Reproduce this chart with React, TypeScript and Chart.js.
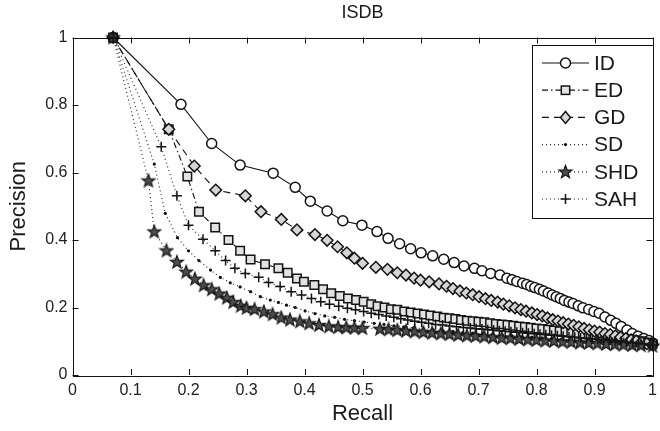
import React, { useEffect, useRef } from 'react';
import { Chart, registerables } from 'chart.js';

Chart.register(...registerables);

const FONT = '"Liberation Sans", Arial, Helvetica, sans-serif';

const TITLE = 'ISDB';
const X_TITLE = 'Recall';
const Y_TITLE = 'Precision';
const X_TICKS = [0, 0.1, 0.2, 0.3, 0.4, 0.5, 0.6, 0.7, 0.8, 0.9, 1];
const Y_TICKS = [0, 0.2, 0.4, 0.6, 0.8, 1];
const SERIES_NAMES = ['ID', 'ED', 'GD', 'SD', 'SHD', 'SAH'];

const ID_RECALL = [0.070, 0.187, 0.240, 0.289, 0.346, 0.384, 0.410, 0.439, 0.466, 0.499, 0.525, 0.544, 0.564, 0.583, 0.601, 0.621, 0.640, 0.658, 0.675, 0.693, 0.706, 0.721, 0.737, 0.749, 0.758, 0.766, 0.776, 0.783, 0.790, 0.797, 0.805, 0.812, 0.820, 0.827, 0.834, 0.841, 0.848, 0.856, 0.863, 0.872, 0.880, 0.890, 0.899, 0.908, 0.918, 0.928, 0.937, 0.946, 0.956, 0.965, 0.975, 0.985, 0.994, 1.000];
const ID_PRECISION = [1.000, 0.802, 0.686, 0.622, 0.598, 0.556, 0.515, 0.486, 0.457, 0.444, 0.425, 0.405, 0.389, 0.374, 0.362, 0.353, 0.343, 0.333, 0.323, 0.316, 0.309, 0.301, 0.296, 0.287, 0.282, 0.277, 0.272, 0.268, 0.263, 0.259, 0.254, 0.249, 0.243, 0.237, 0.232, 0.227, 0.221, 0.216, 0.212, 0.205, 0.199, 0.194, 0.188, 0.183, 0.172, 0.162, 0.153, 0.144, 0.133, 0.123, 0.115, 0.108, 0.102, 0.095];

const ED_RECALL = [0.070, 0.166, 0.198, 0.218, 0.246, 0.269, 0.289, 0.307, 0.332, 0.355, 0.371, 0.387, 0.399, 0.417, 0.432, 0.446, 0.461, 0.475, 0.489, 0.502, 0.515, 0.526, 0.538, 0.549, 0.560, 0.572, 0.583, 0.595, 0.606, 0.617, 0.629, 0.640, 0.650, 0.660, 0.670, 0.680, 0.690, 0.700, 0.710, 0.720, 0.730, 0.740, 0.750, 0.760, 0.770, 0.780, 0.790, 0.800, 0.810, 0.820, 0.830, 0.840, 0.850, 0.860, 0.870, 0.880, 0.890, 0.900, 0.910, 0.920, 0.930, 0.940, 0.950, 0.960, 0.970, 0.980, 0.990, 1.000];
const ED_PRECISION = [1.000, 0.728, 0.588, 0.484, 0.437, 0.400, 0.368, 0.342, 0.328, 0.316, 0.303, 0.286, 0.276, 0.267, 0.254, 0.242, 0.234, 0.227, 0.222, 0.217, 0.210, 0.204, 0.200, 0.195, 0.193, 0.188, 0.185, 0.182, 0.179, 0.176, 0.173, 0.170, 0.168, 0.166, 0.163, 0.161, 0.159, 0.158, 0.156, 0.153, 0.151, 0.150, 0.148, 0.146, 0.144, 0.142, 0.140, 0.138, 0.136, 0.134, 0.132, 0.130, 0.128, 0.126, 0.124, 0.122, 0.120, 0.119, 0.117, 0.115, 0.113, 0.111, 0.109, 0.106, 0.103, 0.100, 0.096, 0.092];

const GD_RECALL = [0.070, 0.166, 0.210, 0.247, 0.298, 0.325, 0.360, 0.387, 0.418, 0.439, 0.457, 0.473, 0.486, 0.500, 0.523, 0.543, 0.560, 0.575, 0.589, 0.600, 0.615, 0.632, 0.645, 0.656, 0.668, 0.679, 0.690, 0.701, 0.712, 0.722, 0.733, 0.743, 0.753, 0.763, 0.773, 0.782, 0.792, 0.801, 0.810, 0.819, 0.828, 0.837, 0.846, 0.855, 0.864, 0.873, 0.882, 0.891, 0.900, 0.909, 0.918, 0.927, 0.936, 0.945, 0.954, 0.963, 0.972, 0.981, 0.990, 1.000];
const GD_PRECISION = [1.000, 0.728, 0.619, 0.548, 0.531, 0.484, 0.461, 0.430, 0.416, 0.399, 0.380, 0.362, 0.346, 0.331, 0.319, 0.313, 0.303, 0.296, 0.287, 0.281, 0.276, 0.270, 0.263, 0.256, 0.249, 0.243, 0.238, 0.232, 0.226, 0.221, 0.216, 0.210, 0.205, 0.199, 0.194, 0.189, 0.184, 0.179, 0.175, 0.169, 0.164, 0.160, 0.155, 0.151, 0.147, 0.143, 0.138, 0.134, 0.130, 0.127, 0.123, 0.120, 0.116, 0.112, 0.108, 0.104, 0.101, 0.097, 0.093, 0.089];

const SD_RECALL = [0.070, 0.141, 0.160, 0.181, 0.200, 0.218, 0.238, 0.255, 0.272, 0.289, 0.307, 0.324, 0.341, 0.355, 0.369, 0.384, 0.401, 0.418, 0.435, 0.452, 0.469, 0.486, 0.503, 0.520, 0.537, 0.554, 0.571, 0.588, 0.605, 0.622, 0.639, 0.656, 0.673, 0.690, 0.707, 0.724, 0.741, 0.758, 0.775, 0.792, 0.809, 0.826, 0.843, 0.860, 0.877, 0.894, 0.911, 0.928, 0.945, 0.962, 0.979, 1.000];
const SD_PRECISION = [1.000, 0.625, 0.479, 0.407, 0.368, 0.339, 0.311, 0.289, 0.273, 0.261, 0.247, 0.232, 0.222, 0.215, 0.207, 0.200, 0.190, 0.182, 0.175, 0.171, 0.165, 0.161, 0.157, 0.153, 0.150, 0.146, 0.143, 0.140, 0.137, 0.134, 0.131, 0.129, 0.126, 0.124, 0.122, 0.120, 0.118, 0.116, 0.114, 0.112, 0.110, 0.108, 0.106, 0.104, 0.102, 0.100, 0.098, 0.096, 0.094, 0.092, 0.090, 0.088];

const SHD_RECALL = [0.070, 0.131, 0.141, 0.162, 0.180, 0.196, 0.211, 0.226, 0.240, 0.253, 0.266, 0.277, 0.290, 0.300, 0.314, 0.330, 0.345, 0.360, 0.375, 0.392, 0.408, 0.425, 0.442, 0.458, 0.472, 0.486, 0.500, 0.530, 0.545, 0.560, 0.575, 0.590, 0.605, 0.620, 0.635, 0.650, 0.665, 0.680, 0.695, 0.710, 0.725, 0.740, 0.755, 0.770, 0.785, 0.800, 0.815, 0.830, 0.845, 0.860, 0.875, 0.890, 0.905, 0.920, 0.935, 0.950, 0.965, 0.980, 1.000];
const SHD_PRECISION = [1.000, 0.576, 0.425, 0.369, 0.335, 0.306, 0.285, 0.266, 0.254, 0.241, 0.229, 0.216, 0.205, 0.199, 0.195, 0.188, 0.180, 0.170, 0.164, 0.159, 0.153, 0.148, 0.144, 0.142, 0.141, 0.140, 0.139, 0.137, 0.135, 0.133, 0.131, 0.129, 0.127, 0.125, 0.123, 0.121, 0.119, 0.117, 0.116, 0.114, 0.112, 0.110, 0.109, 0.107, 0.105, 0.104, 0.102, 0.101, 0.099, 0.098, 0.096, 0.095, 0.094, 0.092, 0.091, 0.090, 0.089, 0.088, 0.087];

const SAH_RECALL = [0.070, 0.153, 0.180, 0.200, 0.225, 0.246, 0.264, 0.280, 0.298, 0.321, 0.338, 0.358, 0.377, 0.395, 0.412, 0.428, 0.443, 0.459, 0.474, 0.488, 0.502, 0.515, 0.528, 0.541, 0.554, 0.566, 0.578, 0.590, 0.602, 0.614, 0.626, 0.638, 0.650, 0.662, 0.674, 0.686, 0.696, 0.706, 0.716, 0.726, 0.736, 0.746, 0.756, 0.766, 0.776, 0.786, 0.796, 0.806, 0.816, 0.826, 0.836, 0.846, 0.856, 0.866, 0.876, 0.886, 0.896, 0.906, 0.916, 0.926, 0.936, 0.946, 0.956, 0.966, 0.976, 0.986, 0.996, 1.000];
const SAH_PRECISION = [1.000, 0.676, 0.531, 0.444, 0.402, 0.368, 0.339, 0.316, 0.301, 0.290, 0.274, 0.262, 0.247, 0.237, 0.227, 0.217, 0.210, 0.204, 0.198, 0.193, 0.188, 0.183, 0.179, 0.175, 0.171, 0.167, 0.163, 0.159, 0.156, 0.153, 0.150, 0.148, 0.145, 0.143, 0.141, 0.139, 0.137, 0.136, 0.134, 0.133, 0.131, 0.130, 0.128, 0.127, 0.125, 0.124, 0.122, 0.121, 0.119, 0.118, 0.116, 0.115, 0.113, 0.112, 0.110, 0.109, 0.107, 0.106, 0.104, 0.103, 0.101, 0.100, 0.098, 0.096, 0.094, 0.092, 0.090, 0.089];

const SERIES_X = [ID_RECALL, ED_RECALL, GD_RECALL, SD_RECALL, SHD_RECALL, SAH_RECALL];
const SERIES_Y = [ID_PRECISION, ED_PRECISION, GD_PRECISION, SD_PRECISION, SHD_PRECISION, SAH_PRECISION];

type Marker = 'circle' | 'square' | 'diamond' | 'dot' | 'star' | 'plus';
const STYLES: { dash: number[]; marker: Marker; lineColor: string }[] = [
  { dash: [], marker: 'circle', lineColor: '#111' },
  { dash: [6, 3, 1.5, 3], marker: 'square', lineColor: '#111' },
  { dash: [7, 5], marker: 'diamond', lineColor: '#111' },
  { dash: [1, 3], marker: 'dot', lineColor: '#222' },
  { dash: [1, 3], marker: 'star', lineColor: '#222' },
  { dash: [1, 3], marker: 'plus', lineColor: '#222' },
];

const EDGE = '#141414';
const STAR_FILL = '#4d4d4d';

function drawStarPath(g: CanvasRenderingContext2D, cx: number, cy: number, R: number, r: number) {
  g.beginPath();
  for (let i = 0; i < 10; i++) {
    const rad = i % 2 === 0 ? R : r;
    const a = -Math.PI / 2 + (i * Math.PI) / 5;
    const px = cx + rad * Math.cos(a);
    const py = cy + rad * Math.sin(a);
    if (i === 0) g.moveTo(px, py);
    else g.lineTo(px, py);
  }
  g.closePath();
}

function makeStar(): HTMLCanvasElement {
  const c = document.createElement('canvas');
  c.width = 16;
  c.height = 16;
  const g = c.getContext('2d')!;
  drawStarPath(g, 8, 8.4, 6.8, 2.8);
  g.fillStyle = STAR_FILL;
  g.fill();
  g.strokeStyle = EDGE;
  g.lineWidth = 1.2;
  g.stroke();
  return c;
}

function drawMarker(ctx: CanvasRenderingContext2D, m: Marker, x: number, y: number) {
  ctx.save();
  ctx.setLineDash([]);
  ctx.lineWidth = 1.5;
  ctx.strokeStyle = EDGE;
  if (m === 'circle') {
    ctx.beginPath();
    ctx.arc(x, y, 5, 0, Math.PI * 2);
    ctx.fillStyle = '#fff';
    ctx.fill();
    ctx.stroke();
  } else if (m === 'square') {
    ctx.fillStyle = '#e2e2e2';
    ctx.fillRect(x - 4.2, y - 4.2, 8.4, 8.4);
    ctx.strokeRect(x - 4.2, y - 4.2, 8.4, 8.4);
  } else if (m === 'diamond') {
    ctx.beginPath();
    ctx.moveTo(x, y - 6);
    ctx.lineTo(x + 5, y);
    ctx.lineTo(x, y + 6);
    ctx.lineTo(x - 5, y);
    ctx.closePath();
    ctx.fillStyle = '#d6d6d6';
    ctx.fill();
    ctx.stroke();
  } else if (m === 'dot') {
    ctx.beginPath();
    ctx.arc(x, y, 1.6, 0, Math.PI * 2);
    ctx.fillStyle = '#111';
    ctx.fill();
  } else if (m === 'star') {
    drawStarPath(ctx, x, y + 0.4, 6.8, 2.8);
    ctx.fillStyle = STAR_FILL;
    ctx.fill();
    ctx.lineWidth = 1.2;
    ctx.stroke();
  } else if (m === 'plus') {
    ctx.beginPath();
    ctx.moveTo(x - 5, y);
    ctx.lineTo(x + 5, y);
    ctx.moveTo(x, y - 5);
    ctx.lineTo(x, y + 5);
    ctx.stroke();
  }
  ctx.restore();
}

const framePlugin = {
  id: 'matlabFrame',
  afterDatasetsDraw(chart: any) {
    const { ctx, chartArea, scales } = chart;
    const { left, right, top, bottom } = chartArea;
    ctx.save();
    ctx.strokeStyle = '#111';
    ctx.lineWidth = 1;
    ctx.setLineDash([]);
    ctx.strokeRect(Math.round(left) + 0.5, Math.round(top) + 0.5, Math.round(right - left), Math.round(bottom - top));
    const tl = 6;
    ctx.beginPath();
    X_TICKS.forEach((v) => {
      const px = Math.round(scales.x.getPixelForValue(v)) + 0.5;
      ctx.moveTo(px, bottom);
      ctx.lineTo(px, bottom - tl);
      ctx.moveTo(px, top);
      ctx.lineTo(px, top + tl);
    });
    Y_TICKS.forEach((v) => {
      const py = Math.round(scales.y.getPixelForValue(v)) + 0.5;
      ctx.moveTo(left, py);
      ctx.lineTo(left + tl, py);
      ctx.moveTo(right, py);
      ctx.lineTo(right - tl, py);
    });
    ctx.stroke();

    ctx.fillStyle = '#1a1a1a';
    ctx.textAlign = 'center';
    ctx.textBaseline = 'middle';
    ctx.font = `18px ${FONT}`;
    ctx.fillText(TITLE, (left + right) / 2, 13);
    ctx.font = `22px ${FONT}`;
    ctx.fillText(X_TITLE, (left + right) / 2, 414);
    ctx.save();
    ctx.translate(19, (top + bottom) / 2);
    ctx.rotate(-Math.PI / 2);
    ctx.fillText(Y_TITLE, 0, 0);
    ctx.restore();
    ctx.restore();
  },
  afterDraw(chart: any) {
    const { ctx } = chart;
    const x0 = 532, y0 = 45, x1 = 653, y1 = 218;
    ctx.save();
    ctx.fillStyle = '#fff';
    ctx.fillRect(x0, y0, x1 - x0, y1 - y0);
    ctx.strokeStyle = '#111';
    ctx.lineWidth = 1;
    ctx.setLineDash([]);
    ctx.strokeRect(x0 + 0.5, y0 + 0.5, x1 - x0, y1 - y0);
    SERIES_NAMES.forEach((name, i) => {
      const y = 63 + i * 27.2;
      const st = STYLES[i];
      ctx.save();
      ctx.strokeStyle = st.lineColor;
      ctx.lineWidth = 1.2;
      ctx.setLineDash(st.dash);
      ctx.beginPath();
      ctx.moveTo(542, y);
      ctx.lineTo(589, y);
      ctx.stroke();
      ctx.restore();
      drawMarker(ctx, st.marker, 565.5, y);
      ctx.fillStyle = '#1a1a1a';
      ctx.font = `21px ${FONT}`;
      ctx.textAlign = 'left';
      ctx.textBaseline = 'middle';
      ctx.fillText(name, 594, y + 1);
    });
    ctx.restore();
  },
};

export default function App() {
  const ref = useRef<HTMLCanvasElement | null>(null);
  useEffect(() => {
    document.body.style.margin = '0';
    const canvas = ref.current!;
    const star = makeStar();
    const pointStyleFor = (m: Marker): any =>
      m === 'circle' ? 'circle' : m === 'square' ? 'rect' : m === 'diamond' ? 'rectRot' : m === 'dot' ? 'circle' : m === 'star' ? star : 'cross';
    const radiusFor = (m: Marker) =>
      m === 'circle' ? 5 : m === 'square' ? 6 : m === 'diamond' ? 5.8 : m === 'dot' ? 1.6 : m === 'star' ? 6 : 5;
    const fillFor = (m: Marker) =>
      m === 'circle' ? '#fff' : m === 'square' ? '#e2e2e2' : m === 'diamond' ? '#d6d6d6' : m === 'dot' ? '#111' : STAR_FILL;
    const datasets = SERIES_NAMES.map((name, i) => {
      const st = STYLES[i];
      return {
        label: name,
        data: SERIES_X[i].map((x, k) => ({ x, y: SERIES_Y[i][k] })),
        showLine: true,
        borderColor: st.lineColor,
        borderWidth: 1.1,
        borderDash: st.dash,
        pointStyle: pointStyleFor(st.marker),
        pointRadius: radiusFor(st.marker),
        pointBackgroundColor: fillFor(st.marker),
        pointBorderColor: st.marker === 'dot' ? '#111' : EDGE,
        pointBorderWidth: st.marker === 'dot' ? 0 : 1.5,
        tension: 0,
        clip: false as any,
        order: SERIES_NAMES.length - i,
      };
    });
    const chart = new Chart(canvas, {
      type: 'scatter',
      data: { datasets: datasets as any },
      options: {
        responsive: false,
        animation: false,
        devicePixelRatio: 1,
        events: [],
        layout: { padding: { top: 37.5, right: 3, left: 0, bottom: 0 } },
        plugins: {
          legend: { display: false },
          title: { display: false },
          tooltip: { enabled: false },
        },
        scales: {
          x: {
            type: 'linear',
            min: 0,
            max: 1,
            grid: { display: false, drawTicks: false },
            border: { display: false },
            ticks: {
              font: { family: FONT, size: 16 },
              color: '#222',
              padding: 6,
              maxRotation: 0,
              autoSkip: false,
              callback: (v: any) => String(v),
            },
            afterBuildTicks: (s: any) => {
              s.ticks = X_TICKS.map((v) => ({ value: v }));
            },
            afterFit: (s: any) => {
              s.height = 56;
              s.paddingLeft = 0;
              s.paddingRight = 0;
            },
          },
          y: {
            type: 'linear',
            min: 0,
            max: 1,
            grid: { display: false, drawTicks: false },
            border: { display: false },
            ticks: {
              font: { family: FONT, size: 16 },
              color: '#222',
              padding: 5,
              autoSkip: false,
              callback: (v: any) => String(v),
            },
            afterBuildTicks: (s: any) => {
              s.ticks = Y_TICKS.map((v) => ({ value: v }));
            },
            afterFit: (s: any) => {
              s.width = 72.5;
              s.paddingTop = 0;
              s.paddingBottom = 0;
            },
          },
        },
      },
      plugins: [framePlugin as any],
    });
    return () => chart.destroy();
  }, []);
  return <canvas ref={ref} width={660} height={431} style={{ display: 'block' }} />;
}
